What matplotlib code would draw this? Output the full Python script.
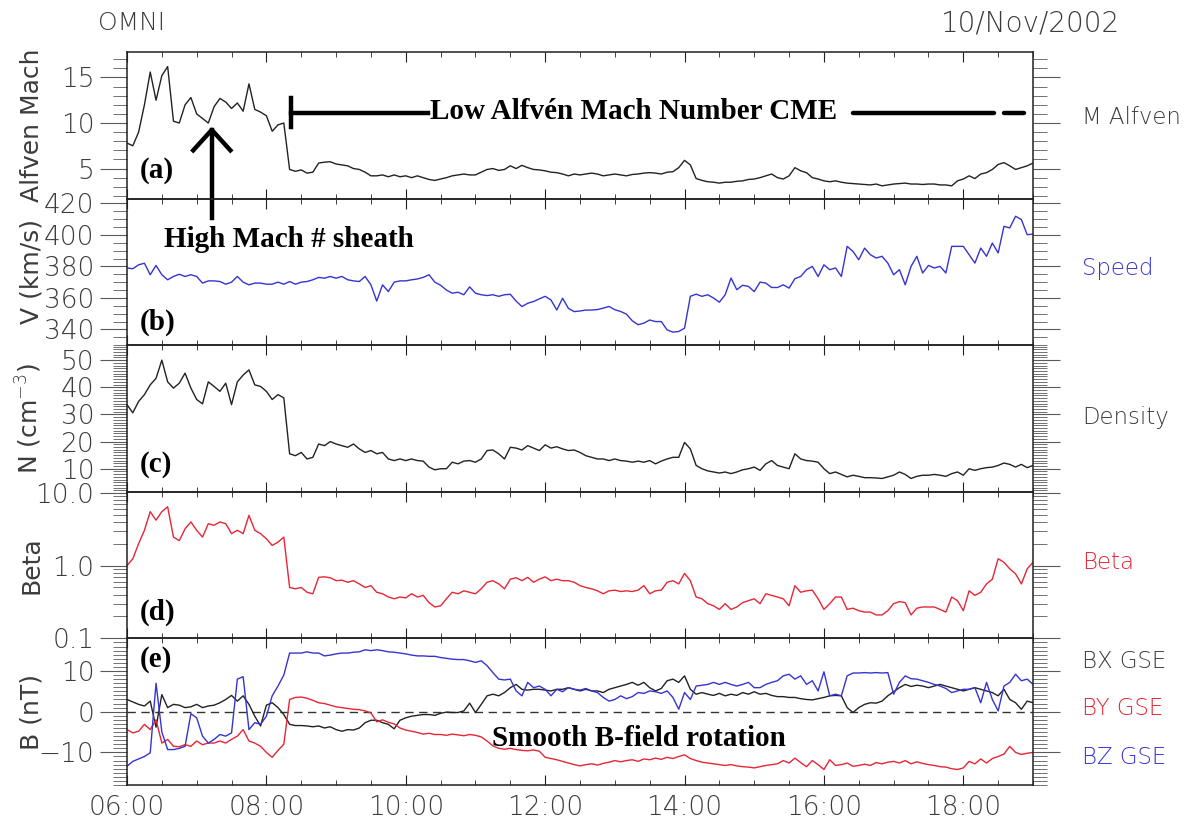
import numpy as np
import pandas as pd
import matplotlib
matplotlib.use("Agg")
import matplotlib.pyplot as plt
import matplotlib.dates as mdates
from matplotlib.ticker import MultipleLocator, LogLocator, FuncFormatter, NullFormatter

plt.rcParams["font.family"] = ["DejaVu Sans"]
plt.rcParams["font.weight"] = "light"

# 5-minute OMNI samples, 10 Nov 2002, 06:00-19:00 (one row per hour)
TIME = pd.date_range("2002-11-10 06:00", "2002-11-10 19:00", freq="5min")

M_ALFVEN = [
    7.8, 7.5, 9.0, 12.0, 15.6, 12.5, 15.2, 16.2, 10.2, 10.0, 12.0, 12.8,
    11.0, 10.5, 10.0, 11.8, 12.7, 12.3, 11.6, 12.2, 11.3, 14.3, 11.5, 11.2,
    10.8, 9.1, 9.8, 10.0, 4.9, 4.7, 4.85, 4.5, 4.6, 5.6, 5.7, 5.75,
    5.5, 5.4, 5.3, 5.0, 4.9, 4.6, 4.2, 4.2, 4.3, 4.1, 4.3, 4.1,
    4.2, 4.0, 4.2, 4.0, 3.8, 3.7, 3.85, 4.0, 4.2, 4.3, 4.4, 4.3,
    4.3, 4.6, 4.9, 5.0, 4.8, 4.9, 5.3, 5.0, 5.35, 5.1, 4.9, 4.85,
    4.75, 4.6, 4.55, 4.4, 4.2, 4.4, 4.3, 4.4, 4.5, 4.4, 4.2, 4.3,
    4.4, 4.3, 4.2, 4.35, 4.4, 4.5, 4.55, 4.5, 4.4, 4.6, 4.65, 5.1,
    5.9, 5.4, 3.9, 3.7, 3.55, 3.5, 3.4, 3.5, 3.5, 3.6, 3.65, 3.8,
    3.85, 4.0, 4.2, 4.4, 4.0, 3.85, 4.2, 5.1, 4.75, 4.55, 4.0, 3.85,
    3.65, 3.55, 3.65, 3.5, 3.4, 3.35, 3.3, 3.25, 3.2, 3.3, 3.1, 3.2,
    3.3, 3.35, 3.4, 3.3, 3.3, 3.25, 3.3, 3.3, 3.2, 3.2, 3.1, 3.65,
    3.85, 4.2, 3.9, 4.4, 4.55, 4.9, 5.45, 5.65, 5.3, 4.9, 5.1, 5.3,
    5.6,
]

SPEED = [
    379, 378.5, 381, 382, 374.7, 380.6, 374.7, 371.5, 373.6, 375, 373.6, 374.7,
    373.6, 369.4, 370.8, 370.8, 370.4, 368.7, 370, 373.6, 370, 368.3, 369.4, 369.4,
    368.7, 368.7, 370, 368.7, 370.4, 368.7, 370, 370.4, 371.5, 373, 372.5, 373.6,
    372.5, 373.6, 371.5, 370.8, 370.4, 373.6, 368.3, 358, 368.3, 364, 370, 370.8,
    370.8, 371.5, 372, 373, 374.7, 370, 368, 365, 363, 363.6, 362, 367,
    363, 362, 361.5, 362, 361, 362, 362.3, 358, 354.5, 356.6, 357.7, 359.4,
    361, 358.7, 352.3, 359.8, 353.4, 351.3, 351.7, 352.3, 352.3, 352.6, 353.5, 354.6,
    352.5, 351.4, 349.7, 345.5, 343, 344, 346, 345, 345, 339.7, 338.3, 338.7,
    340.8, 361, 362.4, 361, 362, 359.9, 357.3, 362, 372.6, 365.2, 368, 367.3,
    364, 370, 369.4, 366.6, 366.6, 368.3, 366.2, 372.2, 373.6, 377.9, 380, 373.6,
    381, 377.9, 379, 373.6, 392.7, 389.5, 384.2, 391.6, 387.4, 385.3, 386.4, 382.1,
    374.7, 377.9, 368.3, 380, 386.4, 375.8, 380.6, 379, 380, 375.8, 392.7, 392.7,
    392.7, 387.4, 382.1, 391.6, 386.4, 394.8, 388.5, 405.4, 404.4, 411.8, 409.7, 400.1,
    400.5,
]

DENSITY = [
    33.6, 30.6, 34.8, 37.3, 40.9, 43.3, 50.0, 42.0, 39.7, 41.5, 45.2, 39.7,
    35.5, 33.9, 42.0, 40.3, 38.5, 41.5, 33.6, 42.0, 44.5, 46.4, 40.9, 40.3,
    38.5, 35.5, 37.3, 36.1, 15.5, 14.8, 16.0, 13.6, 14.2, 19.1, 18.5, 20.0,
    19.1, 18.5, 17.9, 19.1, 17.3, 16.0, 16.7, 15.5, 16.0, 13.6, 13.0, 13.6,
    13.0, 13.6, 13.0, 12.8, 10.6, 9.6, 10.0, 10.0, 12.4, 11.8, 12.8, 13.0,
    12.4, 13.6, 16.7, 16.9, 15.5, 13.6, 17.9, 17.6, 16.9, 18.5, 17.6, 16.7,
    18.8, 17.6, 18.1, 17.3, 16.7, 16.9, 16.0, 14.8, 14.2, 13.6, 13.6, 13.0,
    13.6, 13.0, 12.8, 12.4, 12.8, 12.4, 13.0, 11.8, 12.8, 13.6, 14.2, 14.2,
    19.7, 17.3, 11.2, 10.0, 9.2, 8.8, 8.4, 8.8, 8.2, 8.8, 9.6, 10.0,
    10.6, 9.4, 11.8, 13.0, 11.2, 10.6, 10.0, 15.5, 13.6, 13.0, 12.8, 12.4,
    10.0, 8.2, 8.8, 7.9, 7.0, 7.6, 7.2, 6.7, 6.7, 6.6, 6.4, 7.0,
    7.6, 8.8, 7.9, 6.4, 7.2, 7.6, 7.6, 7.9, 7.6, 7.2, 8.2, 8.8,
    7.6, 10.0, 9.4, 10.0, 10.4, 10.6, 11.2, 12.1, 11.6, 10.6, 11.6, 10.4,
    11.2,
]

BETA = [
    1.0, 1.24, 2.0, 3.05, 5.5, 4.2, 5.5, 6.4, 2.46, 2.2, 3.2, 3.97,
    3.05, 2.46, 3.76, 3.57, 3.97, 3.76, 2.74, 3.05, 2.74, 4.9, 3.05, 2.74,
    2.33, 1.89, 2.1, 2.46, 0.50, 0.48, 0.50, 0.43, 0.41, 0.69, 0.70, 0.68,
    0.62, 0.63, 0.59, 0.62, 0.56, 0.50, 0.53, 0.43, 0.41, 0.37, 0.35, 0.37,
    0.36, 0.41, 0.37, 0.39, 0.31, 0.27, 0.28, 0.35, 0.43, 0.41, 0.45, 0.43,
    0.41, 0.48, 0.59, 0.62, 0.56, 0.48, 0.65, 0.68, 0.62, 0.69, 0.59, 0.65,
    0.70, 0.62, 0.65, 0.62, 0.62, 0.59, 0.53, 0.50, 0.48, 0.45, 0.41, 0.45,
    0.46, 0.44, 0.45, 0.44, 0.46, 0.53, 0.41, 0.45, 0.46, 0.59, 0.62, 0.56,
    0.78, 0.62, 0.37, 0.35, 0.30, 0.28, 0.25, 0.30, 0.25, 0.27, 0.31, 0.33,
    0.35, 0.30, 0.41, 0.39, 0.37, 0.35, 0.28, 0.53, 0.43, 0.45, 0.46, 0.35,
    0.25, 0.30, 0.37, 0.37, 0.25, 0.26, 0.24, 0.23, 0.23, 0.21, 0.21, 0.24,
    0.30, 0.32, 0.31, 0.21, 0.26, 0.27, 0.27, 0.27, 0.25, 0.23, 0.37, 0.33,
    0.24, 0.45, 0.39, 0.43, 0.56, 0.65, 1.24, 1.11, 0.90, 0.77, 0.56, 0.90,
    1.11,
]

BX_GSE = [
    3.0, 2.4, 1.8, 1.4, 2.6, -3.8, 4.2, 1.0, 1.8, 1.6, 1.0, 1.2,
    1.8, 1.0, 1.4, 1.6, 2.2, 3.0, 4.0, 2.6, 3.9, 1.8, -1.1, -3.5,
    1.6, 2.2, 1.0, -0.7, -3.1, -3.4, -3.4, -3.5, -3.7, -3.5, -4.0, -3.7,
    -4.4, -4.8, -4.4, -4.5, -4.0, -2.7, -2.1, -2.1, -2.7, -3.1, -4.2, -2.1,
    -1.5, -1.1, -0.9, -0.7, -0.7, -0.9, -0.4, -0.1, -0.2, -0.2, 0.2, 2.1,
    -0.2, 1.8, 3.9, 4.3, 3.9, 4.7, 5.9, 6.7, 5.5, 5.3, 5.5, 5.5,
    5.3, 5.1, 5.5, 5.5, 5.9, 5.5, 5.1, 5.5, 5.1, 5.1, 4.7, 5.5,
    5.9, 6.3, 6.7, 7.2, 6.5, 7.2, 5.9, 5.1, 5.7, 7.6, 8.0, 7.2,
    8.8, 5.5, 4.3, 4.7, 4.3, 4.0, 4.5, 3.9, 4.3, 4.0, 4.7, 4.3,
    4.9, 4.3, 4.5, 4.0, 3.7, 3.7, 3.5, 3.5, 3.2, 3.0, 2.9, 3.2,
    3.5, 3.9, 4.0, 3.9, 1.0, -0.2, 1.0, 1.8, 2.2, 2.1, 2.6, 3.9,
    4.9, 5.9, 6.7, 6.2, 6.5, 6.3, 5.9, 6.3, 6.7, 6.3, 5.9, 5.5,
    5.1, 5.5, 5.9, 5.5, 5.1, 4.7, 3.9, 5.5, 3.0, 2.2, 0.6, 2.6,
    2.2,
]

BY_GSE = [
    -4.4, -5.2, -4.8, -3.1, -4.4, -2.0, -7.7, -6.8, -8.5, -8.6, -8.1, -8.5,
    -7.2, -8.1, -7.7, -7.7, -7.2, -7.7, -6.8, -6.0, -4.4, -7.2, -7.7, -8.5,
    -10.0, -11.2, -9.5, -8.0, 3.0, 3.5, 3.6, 3.3, 2.8, 2.2, 2.0, 1.6,
    1.2, 1.0, 0.8, 0.6, 0.5, 0.2, -0.3, -2.5, -2.0, -2.6, -3.0, -4.0,
    -4.5, -4.8, -5.1, -5.5, -5.3, -5.6, -5.6, -5.8, -5.5, -5.7, -5.9, -5.6,
    -5.8, -6.2, -7.2, -8.4, -9.0, -9.2, -9.0, -9.3, -9.5, -9.6, -9.4, -9.7,
    -11.2, -11.5, -11.8, -12.2, -12.6, -13.0, -13.3, -13.0, -12.8, -13.1, -12.7, -12.4,
    -12.0, -12.3, -12.0, -11.8, -12.2, -11.6, -11.8, -11.4, -11.7, -11.2, -11.5, -11.0,
    -10.6, -11.5, -12.0, -12.4, -12.6, -12.8, -13.0, -13.2, -13.0, -13.3, -13.5, -13.6,
    -13.8, -13.5, -13.2, -13.0, -12.8, -12.0, -12.6, -11.4, -12.5, -13.5, -12.0, -13.0,
    -14.2, -11.8, -13.2, -13.0, -12.6, -13.4, -13.2, -12.9, -13.2, -12.5, -12.8, -12.4,
    -12.2, -12.6, -12.0, -12.8, -12.3, -12.7, -13.0, -13.2, -13.5, -13.6, -14.0, -14.2,
    -13.8, -12.2, -12.8, -11.6, -12.6, -11.5, -11.0, -10.4, -8.5, -10.0, -10.5, -10.2,
    -10.0,
]

BZ_GSE = [
    -13.4, -12.2, -11.6, -11.0, -10.1, 7.0, -5.0, -9.3, -9.3, -9.0, -8.5, -0.5,
    -1.5, -6.0, -7.7, -6.8, -5.6, -6.0, -5.2, 8.0, 8.6, -4.4, -2.7, -3.1,
    -1.1, 3.9, 6.3, 9.0, 14.4, 14.4, 14.4, 14.7, 14.4, 14.4, 13.7, 13.9,
    14.2, 14.4, 14.4, 14.6, 14.7, 15.2, 15.0, 15.2, 15.0, 14.7, 14.6, 14.4,
    14.2, 13.9, 13.7, 13.7, 13.6, 13.6, 13.3, 13.1, 12.9, 12.8, 12.8, 12.5,
    12.1, 12.5, 11.3, 9.6, 8.0, 7.8, 8.0, 5.1, 3.9, 7.2, 5.9, 6.3,
    5.5, 3.9, 5.5, 4.9, 5.9, 5.5, 5.3, 5.7, 5.1, 4.7, 3.5, 2.6,
    3.0, 3.9, 3.2, 3.7, 4.7, 4.5, 5.1, 4.9, 4.5, 5.1, 3.5, 0.6,
    4.7, 3.0, 6.3, 6.5, 6.7, 7.2, 6.7, 7.2, 6.7, 6.3, 6.7, 7.2,
    5.9, 5.9, 6.7, 7.2, 7.6, 8.8, 9.2, 8.0, 8.8, 6.7, 7.6, 5.1,
    9.8, 3.9, 4.3, 3.9, 8.8, 9.5, 9.5, 9.6, 9.5, 9.6, 9.5, 9.6,
    4.3, 7.2, 8.8, 8.1, 8.0, 7.6, 7.2, 6.7, 6.3, 5.7, 4.7, 5.1,
    5.5, 5.5, 5.9, 2.2, 7.2, 3.0, 0.2, 6.3, 7.2, 9.2, 7.6, 8.0,
    6.7,
]

BLACK = "#222222"
BLUE = "#3434d4"
RED = "#e62634"
TEXT = "#3c3c3c"
TICK = "#5a5a5a"


def t(hhmm):
    return mdates.date2num(pd.Timestamp(f"2002-11-10 {hhmm}"))


W, H = 1197, 823
fig = plt.figure(figsize=(W / 100, H / 100), dpi=100)
x0, x1 = 127 / W, 1033 / W
edges = [52, 198.6, 345.2, 491.8, 638.4, 785]

axes = []
for i in range(5):
    top, bot = edges[i], edges[i + 1]
    ax = fig.add_axes([x0, 1 - bot / H, x1 - x0, (bot - top) / H])
    ax.set_facecolor("none")
    for sp in ax.spines.values():
        sp.set_color("#202020")
        sp.set_linewidth(1.1)
    axes.append(ax)

ax_a, ax_b, ax_c, ax_d, ax_e = axes

# (a) Alfven Mach number
ax_a.plot(TIME, M_ALFVEN, color=BLACK, lw=1.0)
ax_a.set_ylim(1.7, 17.8)
ax_a.yaxis.set_major_locator(MultipleLocator(5))
ax_a.yaxis.set_minor_locator(MultipleLocator(1))

# (b) bulk speed
ax_b.plot(TIME, SPEED, color=BLUE, lw=1.0)
ax_b.set_ylim(330, 423)
ax_b.yaxis.set_major_locator(MultipleLocator(20))
ax_b.yaxis.set_minor_locator(MultipleLocator(5))

# (c) proton density
ax_c.plot(TIME, DENSITY, color=BLACK, lw=1.0)
ax_c.set_ylim(1.5, 55.5)
ax_c.yaxis.set_major_locator(MultipleLocator(10))
ax_c.yaxis.set_minor_locator(MultipleLocator(1))

# (d) plasma beta, log scale
ax_d.plot(TIME, BETA, color=RED, lw=1.0)
ax_d.set_yscale("log")
ax_d.set_ylim(0.1, 10.3)
ax_d.yaxis.set_major_locator(LogLocator(base=10))
ax_d.yaxis.set_minor_locator(LogLocator(base=10, subs=range(2, 10)))
ax_d.yaxis.set_major_formatter(FuncFormatter(lambda v, _: f"{v:.1f}"))
ax_d.yaxis.set_minor_formatter(NullFormatter())

# (e) magnetic field components
ax_e.axhline(0, color="#333333", lw=1.0, dashes=(6, 4))
ax_e.plot(TIME, BX_GSE, color=BLACK, lw=1.0)
ax_e.plot(TIME, BY_GSE, color=RED, lw=1.0)
ax_e.plot(TIME, BZ_GSE, color=BLUE, lw=1.0)
ax_e.set_ylim(-18, 18)
ax_e.yaxis.set_major_locator(MultipleLocator(10))
ax_e.yaxis.set_minor_locator(MultipleLocator(1))

# shared time axis and tick styling
for i, ax in enumerate(axes):
    ax.set_xlim(TIME[0], TIME[-1])
    ax.xaxis.set_major_locator(mdates.HourLocator(byhour=range(0, 24, 2)))
    ax.xaxis.set_minor_locator(mdates.MinuteLocator(byminute=[0, 30]))
    ax.xaxis.set_major_formatter(mdates.DateFormatter("%H:%M"))
    ax.tick_params(axis="x", which="both", direction="in", top=True, bottom=True,
                   color="#202020", labelsize=19, labelcolor=TEXT)
    ax.tick_params(axis="x", which="major", length=7, pad=7)
    ax.tick_params(axis="x", which="minor", length=3.5)
    if i < 4:
        ax.tick_params(axis="x", labelbottom=False)
    ax.tick_params(axis="y", which="both", direction="out", left=True, right=True,
                   labelright=False, color=TICK, labelsize=19, labelcolor=TEXT)
    ax.tick_params(axis="y", which="major", length=19.5, pad=4)
    ax.tick_params(axis="y", which="minor", length=10)

# axis titles on the left, variable names on the right
ylabels = ["Alfven Mach", "V (km/s)", "N (cm$^{-3}$)", "Beta", "B (nT)"]
for ax, lab in zip(axes, ylabels):
    ax.set_ylabel(lab, fontsize=18, color=TEXT)
    ax.yaxis.set_label_coords(-0.092, 0.5)

right_labels = [
    (ax_a, 0.55, "M Alfven", TEXT),
    (ax_b, 0.52, "Speed", BLUE),
    (ax_c, 0.51, "Density", TEXT),
    (ax_d, 0.52, "Beta", RED),
    (ax_e, 0.84, "BX GSE", TEXT),
    (ax_e, 0.52, "BY GSE", RED),
    (ax_e, 0.19, "BZ GSE", BLUE),
]
for ax, yf, lab, col in right_labels:
    ax.text(1.054, yf, lab, transform=ax.transAxes, ha="left", va="center",
            fontsize=16.5, color=col)

fig.text(98 / W, 1 - 23 / H, "OMNI", fontsize=18, color=TEXT, ha="left", va="center")
fig.text(1120 / W, 1 - 23 / H, "10/Nov/2002", fontsize=20, color=TEXT,
         ha="right", va="center")

# panel tags
bold = dict(family="Liberation Serif", weight="bold", fontsize=21, color="black")
for ax, yf, tag in zip(axes, [0.195, 0.158, 0.183, 0.18, 0.853],
                       ["(a)", "(b)", "(c)", "(d)", "(e)"]):
    ax.text(0.0143, yf, tag, transform=ax.transAxes, ha="left", va="center", **bold)

# annotations
line = dict(color="black", lw=3.2, clip_on=False)
ax_a.plot([t("08:21"), t("08:21")], [9.6, 12.75], **line)
ax_a.plot([t("08:21"), t("10:19")], [11.1, 11.1], **line)
ax_a.plot([t("16:25"), t("18:26")], [11.1, 11.1], solid_capstyle="round", **line)
ax_a.plot([t("18:35"), t("18:52")], [11.1, 11.1], solid_capstyle="round", **line)
ax_a.text(t("10:20:40"), 10.4, "Low Alfvén Mach Number CME", ha="left",
          va="baseline", **bold)

ax_a.plot([t("07:13"), t("07:13")], [-0.4, 9.2], **line)
ax_a.plot([t("06:57"), t("07:13"), t("07:29")], [7.0, 9.25, 7.0], **line)
ax_b.text(t("06:32"), 392.3, "High Mach # sheath", ha="left", va="baseline", **bold)

ax_e.text(t("11:14"), -8.4, "Smooth B-field rotation", ha="left", va="baseline", **bold)

fig.savefig("out.png", dpi=100)
